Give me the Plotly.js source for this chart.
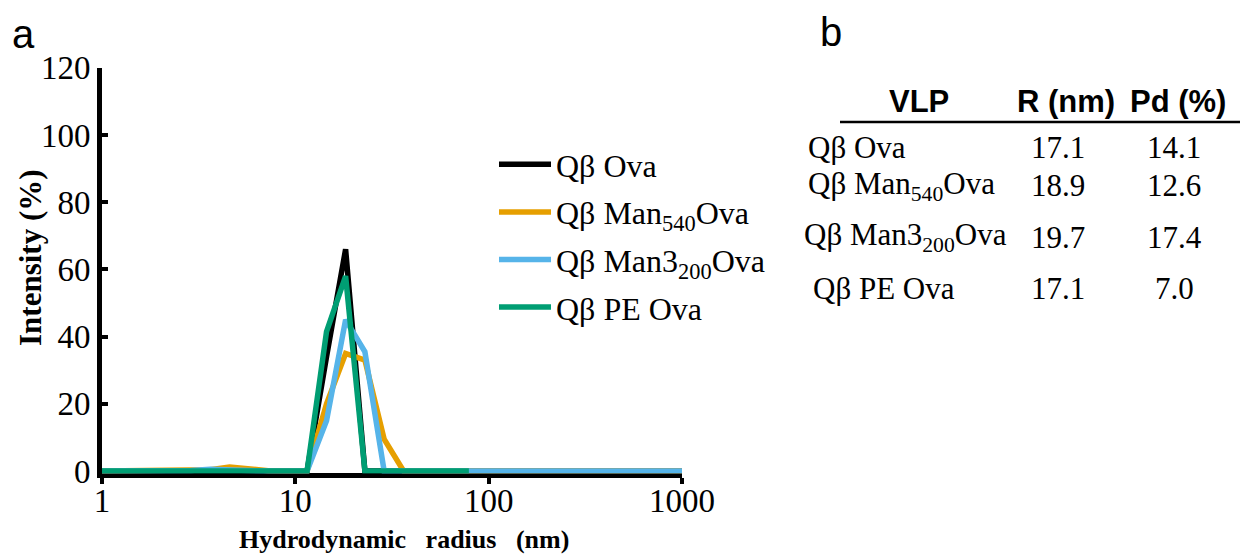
<!DOCTYPE html>
<html>
<head>
<meta charset="utf-8">
<script src="https://cdn.plot.ly/plotly-3.0.1.min.js"></script>
<style>html,body{margin:0;padding:0;background:#fff;}#chart{width:1242px;height:556px;}</style>
</head>
<body>
<div id="chart"></div>
<script>
// Hydrodynamic radius bins (nm)
const radius = [1, 1.15, 1.45, 1.82, 2.29, 2.88, 3.63, 4.57, 5.75, 7.24, 9.12, 11.5, 14.5, 18.2, 22.9, 28.8, 36.3, 45.7, 57.5, 72.4, 79, 91.2, 115, 145, 182, 229, 288, 363, 457, 575, 724, 912, 1000];
const ova      = [0, 0, 0, 0, 0, 0, 0,   0,   0,   0,   0, 0, 34, 66, 0,   0, 0, 0, 0, 0, 0, 0, 0, 0, 0, 0, 0, 0, 0, 0, 0, 0, 0];
const man540   = [0, 0, 0, 0, 0, 0, 0.4, 1.2, 0.5, 0.1, 0, 0, 20, 35, 33, 9.5, 0, 0, 0, 0, 0, 0, 0, 0, 0, 0, 0, 0, 0, 0, 0, 0, 0];
const man3200  = [0, 0, 0, 0, 0, 0.2, 0.5, 0.2, 0, 0,   0, 0, 15, 45, 35.5, 0, 0, 0, 0, 0, 0, 0, 0, 0, 0, 0, 0, 0, 0, 0, 0, 0, 0];
const peOva    = [0, 0, 0, 0, 0, 0, 0,   0,   0,   0,   0, 0, 41.5, 58, 0,  0, 0, 0, 0, 0, 0];
const seriesNames = ["Qβ Ova", "Qβ Man<sub>540</sub>Ova", "Qβ Man3<sub>200</sub>Ova", "Qβ PE Ova"];
const seriesColors = ["#000000", "#E69F00", "#56B4E9", "#009E73"];
const yTicks = [0, 20, 40, 60, 80, 100, 120];
const xTicks = [1, 10, 100, 1000];
const xTickText = ["1", "10", "100", "1000"];
const xTitle = "Hydrodynamic\u00a0\u00a0\u00a0radius\u00a0\u00a0\u00a0(nm)";
const yTitle = "Intensity (%)";

// Table (panel b)
const tableHeaders = ["VLP", "R (nm)", "Pd (%)"];
const vlpNames = ["Qβ Ova", "Qβ Man<sub>540</sub>Ova", "Qβ Man3<sub>200</sub>Ova", "Qβ PE Ova"];
const radiusNm = ["17.1", "18.9", "19.7", "17.1"];
const pdPct = ["14.1", "12.6", "17.4", "7.0"];

const W = 1242, H = 556;
const px = v => v / W;
const py = v => 1 - v / H;
const serif = "Liberation Serif, Times New Roman, serif";
const sans = "Liberation Sans, Arial, sans-serif";

const ys = [ova, man540, man3200, peOva];
const traces = ys.map((y, i) => ({
  x: radius.slice(0, y.length),
  y: y,
  type: "scatter",
  mode: "lines",
  name: seriesNames[i],
  legendgroup: "g" + i,
  line: {color: seriesColors[i], width: 5.5}
}));

const annotations = [
  {text: "a", x: px(23), y: py(34), xanchor: "center", yanchor: "middle", font: {family: sans, size: 40, color: "#000"}},
  {text: "b", x: px(831), y: py(32), xanchor: "center", yanchor: "middle", font: {family: sans, size: 40, color: "#000"}},
  {text: "<b>" + xTitle + "</b>", x: px(404), y: py(539), xanchor: "center", yanchor: "middle", font: {family: serif, size: 26, color: "#000"}},
  {text: "<b>" + yTitle + "</b>", x: px(30), y: py(258), xanchor: "center", yanchor: "middle", textangle: -90, font: {family: serif, size: 31, color: "#000"}}
];
const headerX = [919, 1066, 1178];
tableHeaders.forEach((t, i) => annotations.push({
  text: "<b>" + t + "</b>", x: px(headerX[i]), y: py(102), xanchor: "center", yanchor: "middle",
  font: {family: sans, size: 31, color: "#000"}
}));
const rowY = [147, 186, 237, 288];
const nameX = [806, 806, 802, 811];
vlpNames.forEach((t, i) => {
  annotations.push({text: t, x: px(nameX[i]), y: py(rowY[i]), xanchor: "left", yanchor: "middle",
    font: {family: serif, size: 31, color: "#000"}});
  annotations.push({text: radiusNm[i], x: px(1058), y: py(rowY[i]), xanchor: "center", yanchor: "middle",
    font: {family: serif, size: 31, color: "#000"}});
  annotations.push({text: pdPct[i], x: px(1174), y: py(rowY[i]), xanchor: "center", yanchor: "middle",
    font: {family: serif, size: 31, color: "#000"}});
});
annotations.forEach(a => { a.xref = "paper"; a.yref = "paper"; a.showarrow = false; });

const layout = {
  width: W, height: H,
  margin: {l: 0, r: 0, t: 0, b: 0},
  paper_bgcolor: "#fff", plot_bgcolor: "#fff",
  showlegend: true,
  legend: {x: px(494), y: py(137), xanchor: "left", yanchor: "top", traceorder: "grouped", tracegroupgap: 3,
    itemwidth: 52, font: {family: serif, size: 32, color: "#000"}, bgcolor: "rgba(0,0,0,0)"},
  xaxis: {
    domain: [px(102), px(682)], type: "log", range: [0, 3],
    tickvals: xTicks, ticktext: xTickText, ticks: "outside", ticklen: 6, tickwidth: 4, tickcolor: "#000",
    showline: true, linewidth: 5, linecolor: "#000", showgrid: false, zeroline: false, layer: "below traces",
    tickfont: {family: serif, size: 33, color: "#000"}, ticklabelstandoff: -12,
    automargin: false, fixedrange: true
  },
  yaxis: {
    domain: [1 - 473.4 / H, 1 - 67.8 / H], range: [-0.7, 120],
    tickvals: yTicks, ticks: "inside", ticklen: 6, tickwidth: 4, tickcolor: "#000",
    showline: true, linewidth: 5, linecolor: "#000", showgrid: false, zeroline: false, layer: "below traces",
    tickfont: {family: serif, size: 33, color: "#000"}, ticklabelstandoff: 0,
    automargin: false, fixedrange: true
  },
  shapes: [{type: "line", xref: "paper", yref: "paper", x0: px(840), x1: px(1240), y0: py(122), y1: py(122),
    line: {color: "#000", width: 2.5}}],
  annotations: annotations
};

Plotly.newPlot("chart", traces, layout, {displayModeBar: false, staticPlot: true});
</script>
</body>
</html>
